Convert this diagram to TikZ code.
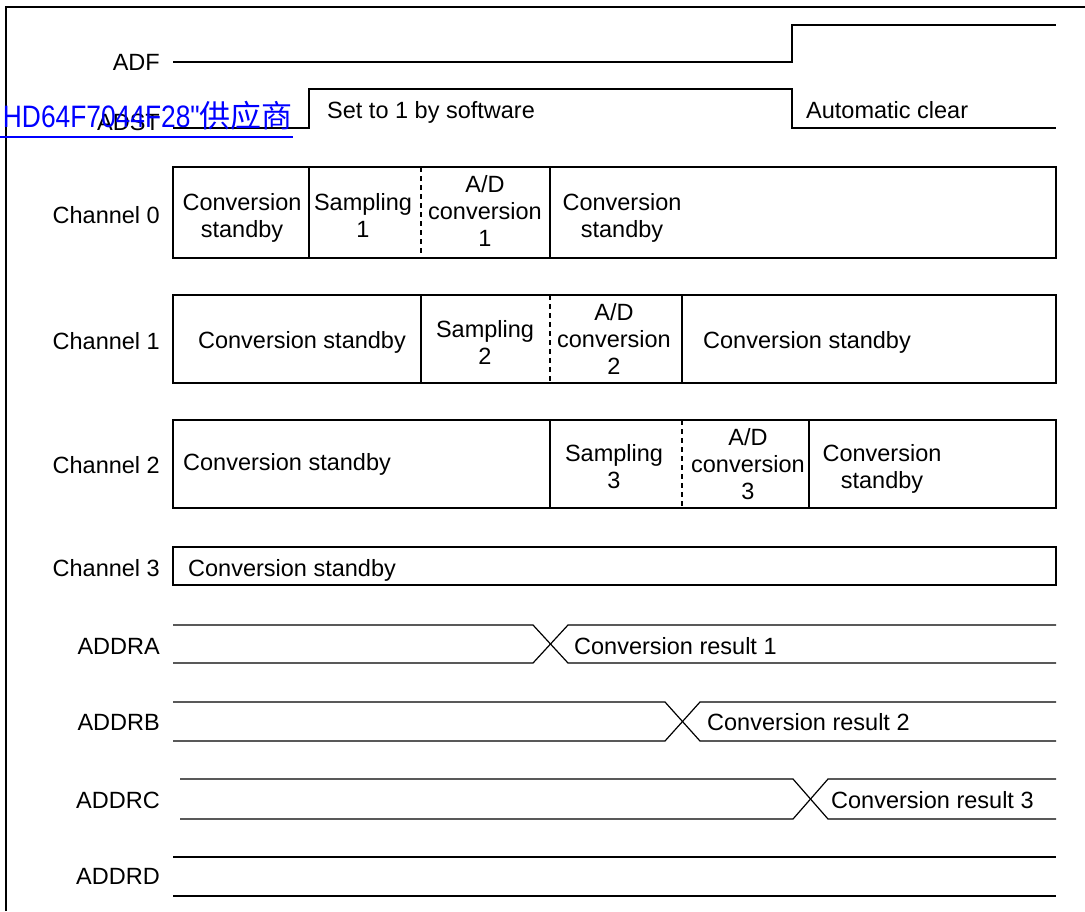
\documentclass[tikz,border=0pt]{standalone}
\usepackage{fontspec}
\setmainfont{Liberation Sans}
\newfontfamily\cjk{Noto Sans CJK SC}
\newfontfamily\linkfont{Liberation Sans}
\begin{document}
\begin{tikzpicture}[x=1pt,y=-1pt,
  sig/.style={line width=1.2pt, line join=miter},
  ddash/.style={line width=1.1pt, dash pattern=on 5pt off 4pt},
  lbl/.style={font=\fontsize{23.5}{27}\selectfont, inner sep=0pt, align=center},
  link/.style={font=\fontsize{31}{34}\selectfont, inner sep=0pt, text=blue}]
\useasboundingbox (0,0) rectangle (1085,911);
% frame
\draw[line width=1.2pt] (6,911) -- (6,7) -- (1085,7);

% ADF
\node[lbl, anchor=east] (adfL) at (160,62) {ADF};
\draw[sig] (173,62) -- (792,62) -- (792,25) -- (1056,25);

% ADST
\node[lbl, anchor=east] (adstL) at (160,122) {ADST};
\draw[sig] (173,128) -- (309,128) -- (309,89) -- (792,89) -- (792,128) -- (1056,128);
\node[lbl, anchor=west] (set1) at (327,112) {Set to 1 by software};
\node[lbl, anchor=west] (autoc) at (806,110) {Automatic clear};

% overlay link text
\node[link, anchor=base east] (lnk) at (293,127) {\scalebox{0.85}[1]{\linkfont HD64F7044F28"}{\cjk 供应商}};
\draw[blue, line width=1.6pt] (0,137) -- (293,137);

% Channel 0
\node[lbl, anchor=east] (ch0L) at (160,215) {Channel 0};
\draw[sig] (173,167) rectangle (1056,258);
\draw[sig] (309,167) -- (309,258);
\draw[ddash] (421,167) -- (421,258);
\draw[sig] (550,167) -- (550,258);
\node[lbl] (c0a) at (242,218) {Conversion\\standby};
\node[lbl] (c0b) at (363,215) {Sampling\\1};
\node[lbl] (c0c) at (485,211) {A/D\\conversion\\1};
\node[lbl] (c0d) at (622,218) {Conversion\\standby};

% Channel 1
\node[lbl, anchor=east] (ch1L) at (160,341) {Channel 1};
\draw[sig] (173,295) rectangle (1056,383);
\draw[sig] (421,295) -- (421,383);
\draw[ddash] (550,295) -- (550,383);
\draw[sig] (682,295) -- (682,383);
\node[lbl] (c1a) at (302,342) {Conversion standby};
\node[lbl] (c1b) at (485,342) {Sampling\\2};
\node[lbl] (c1c) at (614,339) {A/D\\conversion\\2};
\node[lbl] (c1d) at (807,342) {Conversion standby};

% Channel 2
\node[lbl, anchor=east] (ch2L) at (160,465) {Channel 2};
\draw[sig] (173,420) rectangle (1056,508);
\draw[sig] (550,420) -- (550,508);
\draw[ddash] (682,420) -- (682,508);
\draw[sig] (809,420) -- (809,508);
\node[lbl, anchor=west] (c2a) at (183,464) {Conversion standby};
\node[lbl] (c2b) at (614,467) {Sampling\\3};
\node[lbl] (c2c) at (748,464) {A/D\\conversion\\3};
\node[lbl] (c2d) at (882,469) {Conversion\\standby};

% Channel 3
\node[lbl, anchor=east] (ch3L) at (160,568) {Channel 3};
\draw[sig] (173,547) rectangle (1056,585);
\node[lbl, anchor=west] (c3a) at (188,570) {Conversion standby};

% ADDRA
\node[lbl, anchor=east] (raL) at (160,646) {ADDRA};
\draw[sig] (173,625) -- (533,625) -- (568,663) -- (1056,663);
\draw[sig] (173,663) -- (533,663) -- (568,625) -- (1056,625);
\node[lbl, anchor=west] (ra) at (574,646) {Conversion result 1};

% ADDRB
\node[lbl, anchor=east] (rbL) at (160,722) {ADDRB};
\draw[sig] (173,702) -- (665,702) -- (700,741) -- (1056,741);
\draw[sig] (173,741) -- (665,741) -- (700,702) -- (1056,702);
\node[lbl, anchor=west] (rb) at (707,722) {Conversion result 2};

% ADDRC
\node[lbl, anchor=east] (rcL) at (160,800) {ADDRC};
\draw[sig] (180,779) -- (793,779) -- (828,819) -- (1056,819);
\draw[sig] (180,819) -- (793,819) -- (828,779) -- (1056,779);
\node[lbl, anchor=west] (rc) at (831,800) {Conversion result 3};

% ADDRD
\node[lbl, anchor=east] (rdL) at (160,876) {ADDRD};
\draw[sig] (173,857) -- (1056,857);
\draw[sig] (173,896) -- (1056,896);
\end{tikzpicture}
\end{document}
